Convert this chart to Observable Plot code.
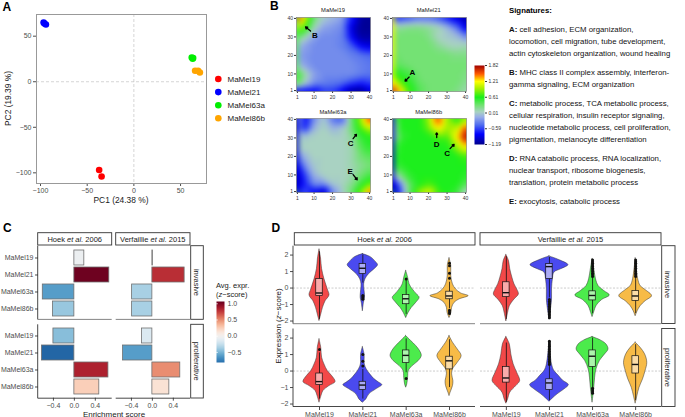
<!DOCTYPE html>
<html><head><meta charset="utf-8">
<script src="https://cdn.jsdelivr.net/npm/d3@7"></script>
<script src="https://cdn.jsdelivr.net/npm/@observablehq/plot@0.6"></script>
<style>
body{margin:0;background:#fff;}
#root{position:relative;width:685px;height:417px;overflow:hidden;background:#fff;font-family:"Liberation Sans",Arial,sans-serif;}
</style></head><body><div id="root"></div>
<script>
const FONT = "'Liberation Sans', Arial, sans-serif";
// ---------- shared ----------
const cellLines = ["MaMel19","MaMel21","MaMel63a","MaMel86b"];
const pcaColors = ["#ff0000","#0000ff","#00ee00","#ffa500"];
const violinFill = ["#f24848","#4a4aef","#4ceb4c","#f7bb47"];
const boxFill = ["#f9abab","#ababf5","#acf5ac","#fbdca6"];

// ---------- A: PCA ----------
const pcaCell = ["MaMel19","MaMel19","MaMel21","MaMel21","MaMel21","MaMel63a","MaMel63a","MaMel63a","MaMel86b","MaMel86b","MaMel86b"];
const pc1 = [-37.2,-34.6,-96.7,-95.8,-94.2,62,63.5,63,65.6,68.8,70.7];
const pc2 = [-96.8,-104,65,64,62.8,26.6,26,25.2,12,12,10.2];

// ---------- B: SOM portraits (9x9 samples, rows top y=40 -> bottom y=1) ----------
const somNames = ["MaMel19","MaMel21","MaMel63a","MaMel86b"];
const somCoords = [1,5,10,15,20,25,30,35,40];
const som19 = [
 1.8, 1.1, 0.3, 0.0,-0.1,-0.2,-0.7,-1.1,-1.15,
 1.1, 0.7, 0.1,-0.2,-0.25,-0.3,-0.9,-1.15,-1.15,
 0.3, 0.1,-0.2,-0.3,-0.3,-0.35,-0.8,-1.1,-1.1,
 -0.1,-0.2,-0.3,-0.3,-0.3,-0.35,-0.5,-0.8,-0.9,
 -0.2,-0.25,-0.3,-0.3,-0.3,-0.3,-0.35,-0.4,-0.45,
 -0.1,-0.2,-0.3,-0.3,-0.3,-0.3,-0.3,-0.35,-0.4,
 0.6, 0.15,-0.2,-0.3,-0.3,-0.3,-0.3,-0.35,-0.4,
 0.4, 0.0,-0.3,-0.35,-0.4,-0.45,-0.6,-0.7,-0.6,
 -0.8,-0.8,-0.8,-0.6,-0.6,-0.8,-1.1,-1.15,-0.9];
const som21 = [
 -0.7,-0.6,-0.5,-0.4,-0.4,-0.5,-0.7,-0.9,-1.1,
 0.2, 0.2, 0.25, 0.25, 0.2, 0.1,-0.1,-0.4,-0.9,
 0.3, 0.3, 0.3, 0.3, 0.25, 0.05, 0.0,-0.05,-0.3,
 0.3, 0.3, 0.3, 0.3, 0.3, 0.2, 0.1, 0.05, 0.1,
 0.35, 0.3, 0.3, 0.3, 0.3, 0.3, 0.3, 0.25, 0.25,
 0.4, 0.35, 0.3, 0.3, 0.3, 0.3, 0.3, 0.3, 0.3,
 0.65, 0.55, 0.45, 0.3, 0.3, 0.3, 0.3, 0.3, 0.25,
 1.2, 0.8, 0.55, 0.35, 0.3, 0.3, 0.3, 0.3, 0.2,
 1.8, 1.2, 0.65, 0.4, 0.3, 0.3, 0.3, 0.25, 0.1];
const som63a = [
 0.0,-0.8,-0.3, 0.0,-0.4,-0.5, 0.3, 0.9, 1.6,
 -0.2,-0.7,-0.1, 0.05,-0.1, 0.0, 0.3, 0.7, 1.0,
 0.05, 0.0, 0.05, 0.05, 0.05, 0.05, 0.15, 0.5, 0.6,
 0.05, 0.05, 0.05, 0.05, 0.05, 0.05, 0.1, 0.4, 0.55,
 -0.4,-0.1, 0.05, 0.05, 0.05, 0.05, 0.1, 0.3, 0.4,
 -0.8,-0.3, 0.0, 0.05, 0.05, 0.05, 0.1, 0.2, 0.3,
 -1.0,-0.6,-0.1, 0.05, 0.05, 0.05, 0.1, 0.3, 0.45,
 -1.0,-0.7,-0.3,-0.3, 0.0, 0.05, 0.2, 0.5, 0.8,
 -0.9,-0.5,-0.8,-1.0,-0.3, 0.0, 0.3, 0.8, 1.5];
const som86b = [
 0.3, 0.6, 0.6, 0.6, 0.9, 1.6, 0.9, 0.6, 0.9,
 0.0, 0.6, 0.6, 0.6, 0.8, 1.2, 0.9, 1.0, 1.6,
 0.0, 0.5, 0.6, 0.6, 0.6, 0.7, 0.7, 1.2, 1.8,
 0.4, 0.6, 0.6, 0.6, 0.6, 0.6, 0.6, 0.9, 1.2,
 0.55, 0.6, 0.6, 0.6, 0.6, 0.6, 0.6, 0.6, 0.7,
 0.5, 0.55, 0.6, 0.6, 0.6, 0.6, 0.6, 0.6, 0.6,
 0.0, 0.3, 0.55, 0.6, 0.6, 0.6, 0.6, 0.6, 0.55,
 -1.0,-0.3, 0.4, 0.6, 0.7, 0.6, 0.6, 0.6, 0.4,
 -1.1,-0.5, 0.4, 0.9, 1.1, 0.7, 0.6, 0.5, 0.0];
const somStops  = [-1.19,-0.8,-0.45,-0.15,0.05,0.3,0.61,0.95,1.21,1.5,1.82];
const somColors = ["#00008b","#0000ff","#4f6cf0","#96ace8","#a9d2c2","#74e274","#1aef1a","#aaf000","#ffff00","#ff5a00","#a00000"];
const somTicks = [1.82,1.21,0.61,0.01,-0.59,-1.19];
const arrowPanel = ["MaMel19","MaMel21","MaMel63a","MaMel63a","MaMel86b","MaMel86b"];
const arrowLetter = ["B","A","C","E","D","C"];
const arrowX1 = [8.1,9.5,31.1,31.1,24.4,31.6];
const arrowY1 = [33.2,8.3,29.6,10.2,30.2,24.2];
const arrowX2 = [5.4,7.3,32.9,33.3,24.4,33.8];
const arrowY2 = [35.4,6.1,31.9,7.4,32.7,26.5];
const letterX = [10.4,11.3,29.7,29.5,24.4,30.0];
const letterY = [30.9,10.9,26.8,12.0,26.3,21.4];

// ---------- Signatures ----------
const sigHeads = ["A:","","","B:","","C:","","","","D:","","","E:"];
const sigTexts = [" cell adhesion, ECM organization,","locomotion, cell migration, tube development,","actin cytoskeleton organization, wound healing",
 " MHC class II complex assembly, interferon-","gamma signaling, ECM organization",
 " metabolic process, TCA metabolic process,","cellular respiration, insulin receptor signaling,","nucleotide metabolic process, cell proliferation,","pigmentation, melanocyte differentiation",
 " RNA catabolic process, RNA localization,","nuclear transport, ribosome biogenesis,","translation, protein metabolic process",
 " exocytosis, catabolic process"];

// ---------- C: enrichment bars ----------
const cHoekInv = [0.19, 0.667, -0.603, -0.41];
const cHoekPro = [-0.40, -0.62, 0.65, 0.476];
const cVerfInv = [0.01, 0.616, -0.387, -0.387];
const cVerfPro = [-0.197, -0.56, 0.533, 0.324];
const cAvgHoekInv = [-0.05, 1.05, -0.6, -0.4];
const cAvgHoekPro = [-0.45, -0.85, 0.85, 0.25];
const cAvgVerfInv = [0.0, 0.8, -0.35, -0.35];
const cAvgVerfPro = [-0.15, -0.6, 0.5, 0.15];
const cTicks = [-0.4, 0, 0.4];
const cLegendTicks = [-0.5, 0, 0.5, 1.0];

// ---------- D: violins (profiles: [cell index, y, half width]) ----------
const vHoekInv = [
 [0,2.33,0],[0,1.8,0.035],[0,1.14,0.06],[0,0.53,0.115],[0,-0.08,0.19],[0,-0.45,0.23],[0,-0.8,0.14],[0,-1.2,0.08],[0,-1.6,0.04],[0,-2.0,0],
 [1,2.06,0],[1,1.86,0.19],[1,1.55,0.31],[1,1.39,0.35],[1,1.14,0.27],[1,0.84,0.14],[1,0.53,0.06],[1,0.22,0.03],[1,-0.29,0.045],[1,-0.59,0.05],[1,-0.9,0.025],[1,-1.41,0],
 [2,1.04,0],[2,0.63,0.045],[2,0.22,0.08],[2,-0.08,0.15],[2,-0.39,0.25],[2,-0.59,0.31],[2,-0.9,0.23],[2,-1.2,0.13],[2,-1.51,0.055],[2,-1.82,0],
 [3,1.8,0],[3,1.35,0.04],[3,0.73,0.04],[3,0.22,0.08],[3,-0.08,0.15],[3,-0.33,0.27],[3,-0.49,0.44],[3,-0.69,0.23],[3,-0.9,0.115],[3,-1.2,0.06],[3,-1.5,0.045],[3,-1.82,0]];
const vHoekPro = [
 [0,1.92,0],[0,1.41,0.04],[0,0.81,0.06],[0,0.4,0.115],[0,0,0.19],[0,-0.3,0.29],[0,-0.67,0.37],[0,-0.91,0.23],[0,-1.21,0.09],[0,-1.52,0.045],[0,-1.92,0],
 [1,1.45,0],[1,1.0,0.04],[1,0.4,0.045],[1,0.1,0.09],[1,-0.2,0.17],[1,-0.5,0.27],[1,-0.71,0.38],[1,-0.85,0.45],[1,-1.11,0.31],[1,-1.41,0.15],[1,-1.72,0.08],[1,-1.92,0],
 [2,2.12,0],[2,1.82,0.115],[2,1.52,0.23],[2,1.21,0.32],[2,0.91,0.36],[2,0.61,0.29],[2,0.3,0.15],[2,0,0.06],[2,-0.4,0.045],[2,-0.81,0.025],[2,-1.01,0],
 [3,2.12,0],[3,1.72,0.08],[3,1.31,0.19],[3,0.91,0.28],[3,0.5,0.19],[3,0.1,0.08],[3,-0.2,0.06],[3,-0.61,0.09],[3,-0.91,0.08],[3,-1.31,0.025],[3,-1.52,0]];
const vVerfInv = [
 [0,2.0,0],[0,1.65,0.06],[0,1.14,0.09],[0,0.63,0.14],[0,0.22,0.19],[0,-0.08,0.25],[0,-0.39,0.29],[0,-0.69,0.19],[0,-1.1,0.08],[0,-1.51,0.04],[0,-2.02,0],
 [1,1.92,0],[1,1.65,0.27],[1,1.39,0.44],[1,1.14,0.27],[1,0.94,0.115],[1,0.53,0.08],[1,-0.08,0.06],[1,-0.69,0.06],[1,-1.1,0.045],[1,-1.92,0],
 [2,1.76,0],[2,1.14,0.04],[2,0.53,0.08],[2,0.12,0.14],[2,-0.18,0.27],[2,-0.45,0.4],[2,-0.73,0.22],[2,-1.1,0.09],[2,-1.41,0.045],[2,-1.76,0],
 [3,1.8,0],[3,0.53,0.06],[3,0.12,0.115],[3,-0.12,0.23],[3,-0.49,0.38],[3,-0.8,0.23],[3,-1.1,0.115],[3,-1.41,0.045],[3,-1.71,0]];
const vVerfPro = [
 [0,2.06,0],[0,1.62,0.08],[0,1.01,0.115],[0,0.4,0.17],[0,-0.1,0.25],[0,-0.61,0.32],[0,-0.91,0.23],[0,-1.31,0.09],[0,-1.72,0.04],[0,-1.98,0],
 [1,1.82,0],[1,0.4,0.06],[1,0,0.115],[1,-0.3,0.22],[1,-0.57,0.31],[1,-0.85,0.45],[1,-1.11,0.35],[1,-1.41,0.19],[1,-1.66,0.08],[1,-1.86,0],
 [2,2.06,0],[2,1.86,0.19],[2,1.62,0.32],[2,1.31,0.37],[2,1.01,0.29],[2,0.61,0.17],[2,0.1,0.09],[2,-0.4,0.06],[2,-1.01,0.04],[2,-1.92,0],
 [3,1.72,0],[3,1.41,0.115],[3,1.01,0.22],[3,0.5,0.27],[3,0,0.23],[3,-0.51,0.17],[3,-1.01,0.09],[3,-1.52,0.04],[3,-1.98,0]];
// box stats: [q1, median, q3, lower whisker, upper whisker] per cell line
const bHoekInv = [[-0.49,-0.3,0.55,-1.9,2.2],[0.85,1.2,1.45,0.3,2.0],[-0.98,-0.65,-0.42,-1.6,0.45],[-0.68,-0.48,-0.22,-1.25,0.35]];
const bHoekPro = [[-0.85,-0.64,-0.15,-1.7,1.1],[-1.15,-0.85,-0.65,-1.7,0.1],[0.48,0.95,1.25,-0.1,1.95],[0.1,0.62,0.87,-1.0,1.9]];
const bVerfInv = [[-0.55,-0.28,0.35,-1.9,1.9],[0.55,1.3,1.45,-0.6,1.85],[-0.75,-0.45,-0.2,-1.55,0.6],[-0.78,-0.48,-0.18,-1.55,0.6]];
const bVerfPro = [[-0.7,-0.42,0.25,-1.9,1.7],[-1.15,-0.72,-0.5,-1.8,0.3],[0.25,0.9,1.25,-1.0,2.0],[-0.15,0.4,0.9,-1.8,1.6]];
// outliers: [cell index, y]
const oHoekInv = [[1,-0.45],[1,-0.52],[1,-0.6],[1,-0.68],[2,0.55],[3,0.6],[3,0.9],[3,1.35],[3,1.5],[3,-1.35],[3,-1.45],[3,-1.55]];
const oHoekPro = [[0,1.3],[1,0.3],[1,0.6],[1,1.0],[2,-0.45]];
const oVerfInv = [[1,-0.7],[1,-0.8],[1,-0.9],[1,-1.0],[1,-1.1],[1,-1.2],[1,-1.3],[1,-1.4],[1,-1.5],[1,-1.6],[1,-1.7],[1,-1.8],
 [2,0.7],[2,0.8],[2,0.9],[2,1.0],[2,1.1],[2,1.2],[2,1.3],[2,1.4],[2,1.5],[2,1.6],[2,1.7],
 [3,0.7],[3,0.8],[3,0.9],[3,1.0],[3,1.1],[3,1.2],[3,1.3],[3,1.4],[3,1.5],[3,1.6],[3,1.7]];
const oVerfPro = [[1,0.4],[1,0.5],[1,0.6],[1,0.7],[1,0.8],[1,0.9],[1,1.0],[1,1.1],[1,1.2],[1,1.3],[1,1.4],[1,1.5],[1,1.6],[1,1.7],[1,1.8],
 [2,-1.05],[2,-1.15],[2,-1.25],[2,-1.35]];
const dTicks = [-2,-1,0,1,2];

// ================= drawing =================
const root = document.getElementById("root");
function P(opts, left, top) {
  const el = Plot.plot(Object.assign({style:{fontFamily:FONT, fontSize:"7px", color:"#4d4d4d", background:"transparent", overflow:"visible"}}, opts));
  el.style.position = "absolute"; el.style.left = left + "px"; el.style.top = top + "px";
  root.appendChild(el);
  return el;
}

// ---- A ----
const pcaData = pcaCell.map((c, i) => ({cell: c, pc1: pc1[i], pc2: pc2[i], color: pcaColors[cellLines.indexOf(c)]}));
P({width:214, height:195, marginLeft:36, marginRight:8, marginTop:14, marginBottom:12,
  x:{domain:[-104.3,77.8], ticks:[-100,-50,0,50], tickSize:3, tickPadding:2, label:null},
  y:{domain:[-111.7,73.8], ticks:[-100,-50,0,50], tickSize:3, tickPadding:2, label:null},
  marks:[
    Plot.ruleX([0], {stroke:"#c4c4c4", strokeDasharray:"3,2", strokeWidth:0.7}),
    Plot.ruleY([0], {stroke:"#c4c4c4", strokeDasharray:"3,2", strokeWidth:0.7}),
    Plot.dot(pcaData, {x:"pc1", y:"pc2", r:3.3, fill:"color", stroke:null}),
    Plot.frame({stroke:"#999"})
  ]}, 0, 0);

// ---- B ----
const somData = [som19, som21, som63a, som86b];
const somPos = [[282,14.7],[377.7,14.7],[282,116.3],[377.7,116.3]];
somData.forEach((vals, k) => {
  const pts = vals.map((v, i) => ({x: somCoords[i % 9], y: somCoords[8 - Math.floor(i / 9)], v}));
  const arr = arrowPanel.map((p, i) => ({p, x1: arrowX1[i], y1: arrowY1[i], x2: arrowX2[i], y2: arrowY2[i], lx: letterX[i], ly: letterY[i], t: arrowLetter[i]})).filter(d => d.p === somNames[k]);
  P({width:90, height:90, marginLeft:14, marginRight:2, marginTop:2, marginBottom:14,
    style:{fontFamily:FONT, fontSize:"5px", color:"#333", background:"transparent", overflow:"visible"},
    x:{domain:[0.5,40.5], ticks:[1,10,20,30,40], tickSize:2, tickPadding:1.5, label:null},
    y:{domain:[0.5,40.5], ticks:[1,10,20,30,40], tickSize:2, tickPadding:1.5, label:null},
    color:{type:"linear", domain:somStops, range:somColors, clamp:true},
    marks:[
      Plot.raster(pts, {x:"x", y:"y", fill:"v", x1:0.5, y1:0.5, x2:40.5, y2:40.5, width:40, height:40, interpolate:"barycentric", blur:1}),
      Plot.frame({stroke:"#777", strokeWidth:0.6}),
      Plot.arrow(arr, {x1:"x1", y1:"y1", x2:"x2", y2:"y2", stroke:"#000", strokeWidth:1.3, headLength:4, headAngle:70}),
      Plot.text(arr, {x:"lx", y:"ly", text:"t", fontWeight:"bold", fontSize:8, fill:"#000"})
    ]}, somPos[k][0], somPos[k][1]);
});
// SOM colour bar
P({width:32, height:81, marginLeft:0, marginRight:22, marginTop:1, marginBottom:1,
  style:{fontFamily:FONT, fontSize:"5px", color:"#333", background:"transparent", overflow:"visible"},
  x:{domain:[0,1], axis:null},
  y:{domain:[-1.19,1.82], axis:"right", ticks:somTicks, tickFormat:d3.format(".2f"), tickSize:2, tickPadding:2, label:null},
  color:{type:"linear", domain:somStops, range:somColors, clamp:true},
  marks:[ Plot.raster({fill:(x, y) => y, x1:0, x2:1, y1:-1.19, y2:1.82, width:1, height:120}) ]
}, 474, 63.5);

// ---- C ----
const cScaleColor = {type:"linear", domain:[-1.07,1.07], scheme:"rdbu", reverse:true};
function barPanel(vals, avgs, left, top, showY, showX) {
  const data = cellLines.map((c, i) => ({cell: c, v: vals[i], avg: avgs[i]}));
  P({width:(showY ? 38 : 0) + 74, height:73.7 + (showX ? 12 : 0),
    marginLeft:showY ? 38 : 0, marginRight:0, marginTop:0, marginBottom:showX ? 12 : 0,
    x:{domain:[-0.685,0.728], ticks:cTicks, tickFormat:d3.format(".1f"), tickSize:showX ? 3 : 0, tickPadding:1.5, label:null, axis:showX ? "bottom" : null},
    y:{domain:cellLines, paddingInner:0.1, paddingOuter:0.15, tickSize:3, tickPadding:2, label:null, axis:showY ? "left" : null},
    color:cScaleColor,
    marks:[ Plot.barX(data, {x:"v", y:"cell", fill:"avg", stroke:"#707070", strokeWidth:0.8}) ]
  }, left - (showY ? 38 : 0), top);
}
barPanel(cHoekInv, cAvgHoekInv, 37.7, 245.7, true, false);
barPanel(cVerfInv, cAvgVerfInv, 115.7, 245.7, false, false);
barPanel(cHoekPro, cAvgHoekPro, 37.7, 324.3, true, true);
barPanel(cVerfPro, cAvgVerfPro, 115.7, 324.3, false, true);
// C legend bar
P({width:26, height:61, marginLeft:0, marginRight:18, marginTop:0, marginBottom:0,
  x:{domain:[0,1], axis:null},
  y:{domain:[-0.81,1.07], axis:"right", ticks:cLegendTicks, tickFormat:d3.format(".1f"), tickSize:0, tickPadding:3, label:null},
  color:cScaleColor,
  marks:[ Plot.raster({fill:(x, y) => y, x1:0, x2:1, y1:-0.81, y2:1.07, width:1, height:120}),
          Plot.tickY(cLegendTicks, {y:d => d, stroke:"#fff", strokeWidth:0.6, insetLeft:0, insetRight:6}) ]
}, 216, 301);

// ---- D ----
function violinPanel(prof, boxes, outs, left, top, showY, showX) {
  const pv = prof.map(r => ({cell: r[0], pos: r[0] + 1, y: r[1], w: r[2]}));
  const bx = boxes.map((b, i) => ({cell: i, pos: i + 1, q1: b[0], med: b[1], q3: b[2], lo: b[3], hi: b[4]}));
  const od = outs.map(o => ({pos: o[0] + 1, y: o[1]}));
  const ml = showY ? 20 : 0;
  P({width:ml + (showY ? 182 : 181), height:78 + (showX ? 12 : 0),
    marginLeft:ml, marginRight:0, marginTop:0, marginBottom:showX ? 12 : 0,
    style:{fontFamily:FONT, fontSize:"7px", color:"#4d4d4d", background:"transparent", overflow:"visible"},
    x:{domain:[0.4,4.6], ticks:[1,2,3,4], tickFormat:d => cellLines[d - 1], tickSize:showX ? 3 : 0, tickPadding:1.5, label:null, axis:showX ? "bottom" : null},
    y:{domain:[-2.21,2.52], ticks:dTicks, tickFormat:d => String(d).replace("-", "\u2212"), tickSize:3, tickPadding:2, label:null, axis:showY ? "left" : null},
    marks:[
      Plot.ruleY([0], {stroke:"#aaa", strokeDasharray:"2,1.5", strokeWidth:0.6}),
      Plot.areaX(pv, {y:"y", x1:d => d.pos - d.w, x2:d => d.pos + d.w, z:"cell", fill:d => violinFill[d.cell], stroke:"#333", strokeWidth:0.5, curve:"catmull-rom"}),
      Plot.ruleX(bx, {x:"pos", y1:"lo", y2:"hi", stroke:"#111", strokeWidth:0.8}),
      Plot.dot(od, {x:"pos", y:"y", r:1.5, fill:"#111", stroke:null}),
      Plot.rect(bx, {x1:d => d.pos - 0.075, x2:d => d.pos + 0.075, y1:"q1", y2:"q3", fill:d => boxFill[d.cell], stroke:"#111", strokeWidth:0.7}),
      Plot.ruleY(bx, {y:"med", x1:d => d.pos - 0.075, x2:d => d.pos + 0.075, stroke:"#111", strokeWidth:1.4})
    ]}, left - ml, top);
}
violinPanel(vHoekInv, bHoekInv, oHoekInv, 293, 245.7, true, false);
violinPanel(vVerfInv, bVerfInv, oVerfInv, 480, 245.7, false, false);
violinPanel(vHoekPro, bHoekPro, oHoekPro, 293, 328.5, true, true);
violinPanel(vVerfPro, bVerfPro, oVerfPro, 480, 328.5, false, true);

// ================= overlay: text, strips, axis lines =================
const svg = d3.select(root).append("svg").attr("width", 685).attr("height", 417)
  .style("position", "absolute").style("left", 0).style("top", 0).style("pointer-events", "none")
  .style("font-family", FONT);
function txt(x, y, parts, o = {}) {
  const t = svg.append("text").attr("x", x).attr("y", y).attr("font-size", o.size || 8)
    .attr("text-anchor", o.anchor || "start").attr("dominant-baseline", "central").attr("fill", o.fill || "#1a1a1a")
    .attr("font-weight", o.weight || "normal");
  if (o.rotate) t.attr("transform", `rotate(${o.rotate},${x},${y})`);
  (Array.isArray(parts) ? parts : [[parts]]).forEach(p => {
    const s = t.append("tspan").text(p[0]);
    if (p[1] === "i") s.attr("font-style", "italic");
    if (p[1] === "b") s.attr("font-weight", "bold");
  });
  return t;
}
function rect(x, y, w, h) {
  svg.append("rect").attr("x", x).attr("y", y).attr("width", w).attr("height", h).attr("fill", "#fff").attr("stroke", "#333").attr("stroke-width", 0.9);
}
function line(x1, y1, x2, y2, c = "#333") {
  svg.append("line").attr("x1", x1).attr("y1", y1).attr("x2", x2).attr("y2", y2).attr("stroke", c).attr("stroke-width", 0.9);
}
// panel letters
txt(2.5, 6.7, "A", {size:12, weight:"bold", fill:"#000"});
txt(270, 5.8, "B", {size:12, weight:"bold", fill:"#000"});
txt(3, 227.5, "C", {size:12, weight:"bold", fill:"#000"});
txt(271.5, 227.5, "D", {size:12, weight:"bold", fill:"#000"});

// A titles + legend
txt(121, 200, "PC1 (24.38 %)", {size:8.4, anchor:"middle"});
txt(8, 98.5, "PC2 (19.39 %)", {size:8.4, anchor:"middle", rotate:-90});
cellLines.forEach((c, i) => {
  svg.append("circle").attr("cx", 218.3).attr("cy", 79 + i * 13.1).attr("r", 3.3).attr("fill", pcaColors[i]);
  txt(227.5, 79 + i * 13.1, c, {size:8});
});

// B titles
[[333,10],[428.7,10],[333,112],[428.7,112]].forEach((p, k) => txt(p[0], p[1], somNames[k], {size:5.8, anchor:"middle", fill:"#222"}));

// signatures
txt(509, 10, "Signatures:", {size:7.8, weight:"bold", fill:"#000"});
const sigY = [29,41,53, 72,84, 103,115,127,139, 158,170,182, 201];
sigTexts.forEach((s, i) => txt(509, sigY[i], sigHeads[i] ? [[sigHeads[i], "b"], [s]] : [[s]], {size:7.8, fill:"#111"}));

// C strips + lines
rect(37.7, 232.7, 74, 12.3); txt(74.7, 238.9, [["Hoek "], ["et al.", "i"], [" 2006"]], {size:7.5, anchor:"middle"});
rect(115.7, 232.7, 74.3, 12.3); txt(152.8, 238.9, [["Verfaillie "], ["et al.", "i"], [" 2015"]], {size:7.5, anchor:"middle"});
rect(190.7, 245.7, 12.6, 73.6); txt(197, 282.5, "invasive", {size:7.5, anchor:"middle", rotate:90});
rect(190.7, 324.3, 12.6, 73.7); txt(197, 361.2, "proliferative", {size:7.5, anchor:"middle", rotate:90});
line(37.7, 245.7, 37.7, 319.4); line(37.7, 324.3, 37.7, 398.2);
line(37.7, 319.4, 111.7, 319.4, "#777"); line(115.7, 319.4, 190, 319.4, "#777");
line(37.7, 398.2, 111.7, 398.2); line(115.7, 398.2, 190, 398.2);
txt(114, 413.5, "Enrichment score", {size:8, anchor:"middle"});
txt(216, 285, "Avg. expr.", {size:7.5});
txt(216, 293.5, [["("], ["z", "i"], ["\u2212score)"]], {size:7.5});

// D strips + lines
rect(294.3, 232.7, 180.7, 12.3); txt(384.6, 238.9, [["Hoek "], ["et al.", "i"], [" 2006"]], {size:7.5, anchor:"middle"});
rect(480, 232.7, 181, 12.3); txt(570.5, 238.9, [["Verfaillie "], ["et al.", "i"], [" 2015"]], {size:7.5, anchor:"middle"});
rect(661.7, 245.7, 13.3, 77.8); txt(668.3, 284.6, "invasive", {size:7.5, anchor:"middle", rotate:90});
rect(661.7, 328.5, 13.3, 78); txt(668.3, 367.5, "proliferative", {size:7.5, anchor:"middle", rotate:90});
line(293, 245.7, 293, 323.7); line(293, 328.5, 293, 406.5);
line(293, 323.7, 475, 323.7, "#777"); line(480, 323.7, 661, 323.7, "#777");
line(293, 406.5, 475, 406.5); line(480, 406.5, 661, 406.5);
txt(277.5, 326, [["Expression ("], ["z", "i"], ["\u2212score)"]], {size:8, anchor:"middle", rotate:-90});
</script></body></html>
